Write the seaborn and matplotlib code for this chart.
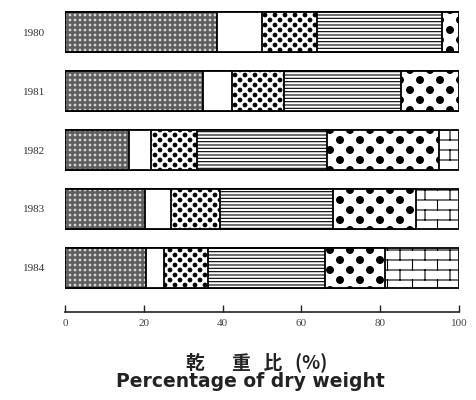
import numpy as np
import pandas as pd
import matplotlib
matplotlib.use("Agg")
import matplotlib.pyplot as plt
import matplotlib.hatch as mhatch
from matplotlib.path import Path
import seaborn as sns

# ---------------- data (percent of dry weight) ----------------
years = ["1980", "1981", "1982", "1983", "1984"]
comp1 = [38.5, 35.1, 16.3, 20.4, 20.5]   # dense grey stipple
comp2 = [11.6, 7.4, 5.6, 6.4, 4.7]       # white
comp3 = [13.9, 13.1, 11.7, 12.5, 11.1]   # small dots
comp4 = [31.7, 29.6, 32.8, 28.6, 29.8]   # horizontal lines
comp5 = [4.3, 14.8, 28.4, 21.1, 15.2]    # large dots
comp6 = [0.0, 0.0, 5.2, 11.0, 18.7]      # bricks
xticks = [0, 20, 40, 60, 80, 100]
title_cn = "乾　  重   比   (%)"
title_en = "Percentage of dry weight"

# ---------------- custom hatch patterns ----------------
class _DotLattice(mhatch.HatchPatternBase):
    char = "O"; ncols = 5; nrows = 10; radius = 0.035; stagger = True
    def __init__(self, hatch, density):
        circ = Path.unit_circle()
        self._cv = circ.vertices
        self._cc = circ.codes
        self.centers = []
        if hatch.count(self.char) > 0:
            dx = 1.0 / self.ncols
            dy = 1.0 / self.nrows
            for r in range(-1, self.nrows + 2):
                shift = dx / 2 if (self.stagger and r % 2) else 0.0
                for c in range(-1, self.ncols + 2):
                    self.centers.append((c * dx + shift, r * dy))
        self.num_vertices = len(self.centers) * len(self._cv)
    def set_vertices_and_codes(self, vertices, codes):
        n = len(self._cv)
        for i, (x, y) in enumerate(self.centers):
            vertices[i * n:(i + 1) * n] = self._cv * self.radius + np.array([x, y])
            codes[i * n:(i + 1) * n] = self._cc

class BigDots(_DotLattice):
    char = "O"; ncols = 5; nrows = 10; radius = 0.034; stagger = True

class SmallDots(_DotLattice):
    char = "o"; ncols = 10; nrows = 20; radius = 0.018; stagger = True

class GreyDots(_DotLattice):
    char = "."; ncols = 20; nrows = 20; radius = 0.008; stagger = False

class Bricks(mhatch.HatchPatternBase):
    char = "*"; nrows = 10; ncols = 4
    def __init__(self, hatch, density):
        self.segs = []
        if hatch.count(self.char) > 0:
            n, m = self.nrows, self.ncols
            for r in range(n + 1):
                self.segs.append(((0.0, r / n), (1.0, r / n)))
            for r in range(n):
                shift = 0.5 / m if r % 2 else 0.0
                for c in range(-1, m + 1):
                    x = c / m + shift
                    self.segs.append(((x, r / n), (x, (r + 1) / n)))
        self.num_vertices = 2 * len(self.segs)
    def set_vertices_and_codes(self, vertices, codes):
        for i, (p0, p1) in enumerate(self.segs):
            vertices[2 * i] = p0
            vertices[2 * i + 1] = p1
            codes[2 * i] = Path.MOVETO
            codes[2 * i + 1] = Path.LINETO

mhatch._hatch_types[:] = [mhatch.HorizontalHatch, BigDots, SmallDots, GreyDots, Bricks]

# ---------------- figure ----------------
plt.rcParams["hatch.linewidth"] = 0.8
fig = plt.figure(figsize=(4.76, 4.0), dpi=100)
ax = fig.add_axes([65 / 476, 88 / 400, 394 / 476, 307 / 400])

comps = [comp1, comp2, comp3, comp4, comp5, comp6]
cum = np.cumsum(np.array(comps), axis=0)
styles = [
    dict(color="#5e5e5e", hatch=".", edgecolor="#d8d8d8", linewidth=0),
    dict(color="white", hatch="", edgecolor="black", linewidth=1.3),
    dict(color="white", hatch="o", edgecolor="black", linewidth=1.3),
    dict(color="white", hatch="-----", edgecolor="black", linewidth=1.3),
    dict(color="white", hatch="O", edgecolor="black", linewidth=1.3),
    dict(color="white", hatch="*", edgecolor="black", linewidth=1.3),
]

for k in range(len(comps) - 1, -1, -1):
    df = pd.DataFrame({"year": years, "value": cum[k]})
    st = styles[k]
    sns.barplot(data=df, x="value", y="year", orient="h", ax=ax,
                color=st["color"], hatch=st["hatch"], edgecolor=st["edgecolor"],
                linewidth=st["linewidth"], width=0.68, errorbar=None,
                saturation=1)

# outline for the grey segment
df = pd.DataFrame({"year": years, "value": cum[0]})
sns.barplot(data=df, x="value", y="year", orient="h", ax=ax, fill=False,
            color="black", edgecolor="black", linewidth=1.3, width=0.68,
            errorbar=None)
for p in ax.patches[-5:]:
    p.set_facecolor("none")
    p.set_edgecolor("black")

ax.set_xlim(0, 100)
ax.set_ylim(4.746, -0.458)
ax.set_xticks(xticks)
ax.set_xticklabels([str(t) for t in xticks], family="Liberation Serif",
                   fontsize=8, color="#444444")
ax.tick_params(axis="x", direction="in", length=5, width=1.0, pad=5,
               colors="#222222", labelcolor="#444444")
ax.tick_params(axis="y", length=0, pad=14)
for lab in ax.get_yticklabels():
    lab.set_family("Liberation Serif")
    lab.set_fontsize(8)
    lab.set_color("#333333")
ax.set_xlabel("")
ax.set_ylabel("")
for s in ["top", "right", "left"]:
    ax.spines[s].set_visible(False)
ax.spines["bottom"].set_linewidth(1.2)
ax.spines["bottom"].set_color("#222222")
ax.grid(False)
ax.set_facecolor("white")

fig.text(257 / 476, 1 - 362 / 400, title_cn, ha="center", va="center",
         family=["Noto Sans CJK JP", "DejaVu Sans"], fontsize=13.5,
         fontweight="bold", color="#222222")
fig.text(250 / 476, 1 - 387 / 400, title_en, ha="center", va="baseline",
         family=["DejaVu Sans"], fontsize=13.5, fontweight="bold",
         color="#222222")

fig.savefig("out.png", dpi=100, facecolor="white")
